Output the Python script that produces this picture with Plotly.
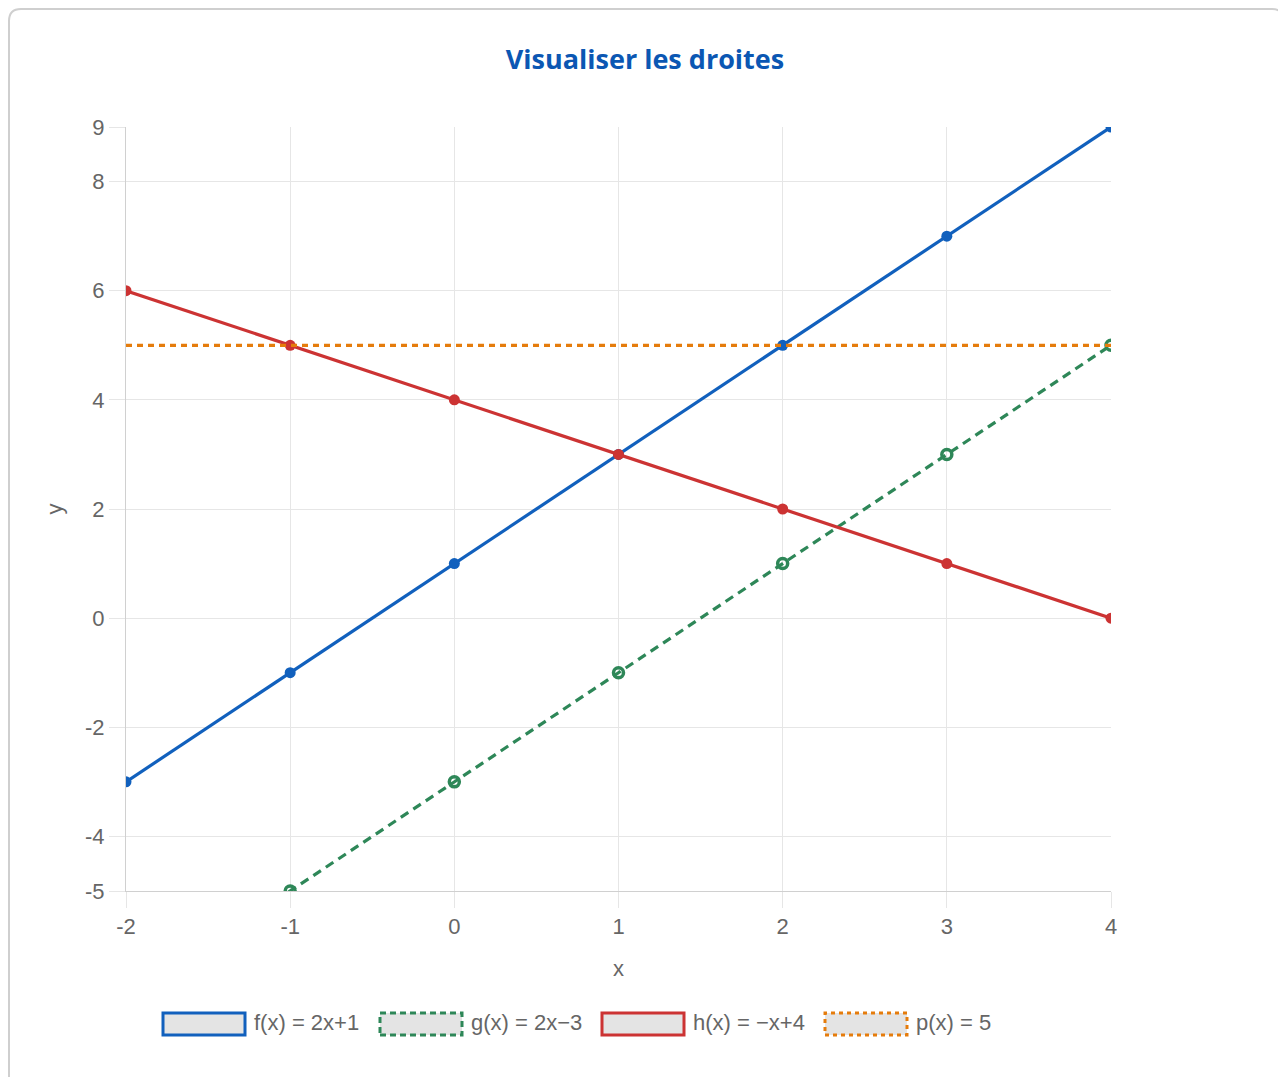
import plotly.graph_objects as go

# ---- data ----
x_vals = [-2, -1, 0, 1, 2, 3, 4]
f_vals = [-3, -1, 1, 3, 5, 7, 9]
g_vals = [-7, -5, -3, -1, 1, 3, 5]
h_vals = [6, 5, 4, 3, 2, 1, 0]
p_vals = [5, 5, 5, 5, 5, 5, 5]
series_names = ["f(x) = 2x+1", "g(x) = 2x\u22123", "h(x) = \u2212x+4", "p(x) = 5"]
y_ticks = [-5, -4, -2, 0, 2, 4, 6, 8, 9]
y_tick_labels = ["-5", "-4", "-2", "0", "2", "4", "6", "8", "9"]
x_ticks = [-2, -1, 0, 1, 2, 3, 4]
x_tick_labels = ["-2", "-1", "0", "1", "2", "3", "4"]

OFF = 8  # page body margin
W, H = 1286 - OFF, 1077 - OFF
L, R, T, B = 126 - OFF, 1111 - OFF, 127 - OFF, 891 - OFF
BLUE, GREEN, RED, ORANGE = "#1160bd", "#2e8758", "#cc3333", "#e57c0c"
GRID = "#e6e6e6"
TXT = "#666666"
FONT = "Liberation Sans, Arial, sans-serif"

def px(xp):
    return (xp - OFF - L) / (R - L)

def py(yp):
    return (B - (yp - OFF)) / (B - T)

fig = go.Figure()
fig.add_trace(go.Scatter(x=x_vals, y=f_vals, name=series_names[0], mode="lines+markers",
                         line=dict(color=BLUE, width=3.2), marker=dict(size=11, color=BLUE)))
fig.add_trace(go.Scatter(x=x_vals, y=g_vals, name=series_names[1], mode="lines+markers",
                         line=dict(color=GREEN, width=3.2, dash="9px,6px"),
                         marker=dict(size=10, color=GREEN, symbol="circle-open", line=dict(width=3.5, color=GREEN))))
fig.add_trace(go.Scatter(x=x_vals, y=h_vals, name=series_names[2], mode="lines+markers",
                         line=dict(color=RED, width=3.2), marker=dict(size=11, color=RED)))
fig.add_trace(go.Scatter(x=x_vals, y=p_vals, name=series_names[3], mode="lines",
                         line=dict(color=ORANGE, width=3.2, dash="6px,5px")))

shapes = []
# card border with rounded corners (page pixel coords -> paper coords)
x0, x1, y0, y1, r = 9, 1284, 9, 1100, 12
path = (f"M {px(x0+r)},{py(y0)} L {px(x1-r)},{py(y0)} Q {px(x1)},{py(y0)} {px(x1)},{py(y0+r)} "
        f"L {px(x1)},{py(y1-r)} Q {px(x1)},{py(y1)} {px(x1-r)},{py(y1)} "
        f"L {px(x0+r)},{py(y1)} Q {px(x0)},{py(y1)} {px(x0)},{py(y1-r)} "
        f"L {px(x0)},{py(y0+r)} Q {px(x0)},{py(y0)} {px(x0+r)},{py(y0)} Z")
shapes.append(dict(type="path", xref="paper", yref="paper", path=path,
                   line=dict(color="#cfcfcf", width=2), fillcolor="rgba(0,0,0,0)", layer="below"))

# chart.js-style legend
legend_boxes = [163, 380, 602, 825]
colors = [BLUE, GREEN, RED, ORANGE]
dashes = ["solid", "6px,4px", "solid", "4px,4px"]
annotations = []
for bx, c, d, name in zip(legend_boxes, colors, dashes, series_names):
    shapes.append(dict(type="rect", xref="paper", yref="paper",
                       x0=px(bx), x1=px(bx + 82), y0=py(1035), y1=py(1013),
                       line=dict(color=c, width=3, dash=d), fillcolor="#e4e4e4"))
    annotations.append(dict(xref="paper", yref="paper", x=px(bx + 89), y=py(1023),
                            text=name, showarrow=False, xanchor="left", yanchor="middle",
                            font=dict(family=FONT, size=22, color=TXT)))

fig.update_layout(
    width=W, height=H,
    margin=dict(l=L, r=W - R, t=T, b=H - B),
    paper_bgcolor="white", plot_bgcolor="white",
    showlegend=False,
    title=dict(text="<b>Visualiser les droites</b>", x=(645 - OFF) / W, xref="container", xanchor="center",
               y=1 - (60 - OFF) / H, yref="container", yanchor="middle",
               font=dict(family="Open Sans, sans-serif", size=27, color="#0b57b3")),
    shapes=shapes, annotations=annotations,
    font=dict(family=FONT, color=TXT),
)
fig.update_xaxes(range=[-2, 4], tickvals=x_ticks, ticktext=x_tick_labels,
                 showgrid=True, gridcolor=GRID, gridwidth=1,
                 zeroline=False, showline=True, linecolor="#d0d0d0", linewidth=1,
                 ticks="outside", ticklen=16, tickcolor=GRID,
                 tickfont=dict(family=FONT, size=22, color=TXT),
                 title=dict(text="x", font=dict(family=FONT, size=22, color=TXT), standoff=22))
fig.update_yaxes(range=[-5, 9], tickvals=y_ticks, ticktext=y_tick_labels,
                 showgrid=True, gridcolor=GRID, gridwidth=1,
                 zeroline=False, showline=True, linecolor="#d0d0d0", linewidth=1,
                 ticks="outside", ticklen=16, tickcolor=GRID,
                 tickfont=dict(family=FONT, size=22, color=TXT),
                 title=dict(text="y", font=dict(family=FONT, size=22, color=TXT), standoff=16))

fig.write_html("out.html")
